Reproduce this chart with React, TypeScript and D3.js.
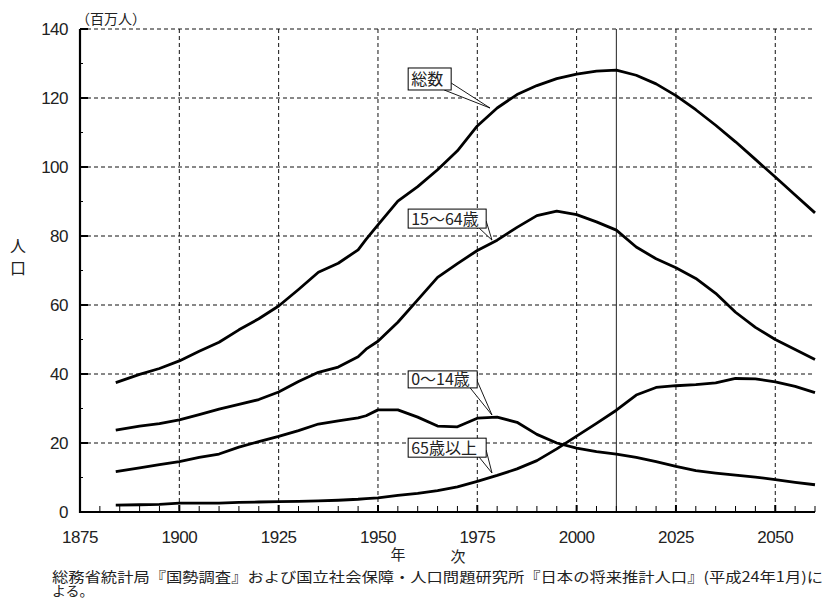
import React from 'react';
import * as d3 from 'd3';

// 年次 (shared by all series)
const years = [
  1884, 1890, 1895, 1900, 1905, 1910, 1915, 1920, 1925, 1930, 1935, 1940, 1945, 1947,
  1950, 1955, 1960, 1965, 1970, 1975, 1980, 1985, 1990, 1995, 2000, 2005, 2010,
  2015, 2020, 2025, 2030, 2035, 2040, 2045, 2050, 2055, 2060,
];

// 人口 (百万人)
const total = [
  37.5, 39.9, 41.6, 43.8, 46.6, 49.2, 52.8, 56.0, 59.7, 64.5, 69.5, 72.1, 76.0, 79.0,
  83.2, 90.1, 94.3, 99.2, 104.7, 111.9, 117.1, 121.0, 123.6, 125.6, 126.9, 127.8, 128.1,
  126.6, 124.1, 120.7, 116.6, 112.1, 107.3, 102.2, 97.1, 91.9, 86.7,
];
const age15to64 = [
  23.7, 24.9, 25.6, 26.7, 28.2, 29.8, 31.2, 32.6, 34.8, 37.8, 40.5, 42.0, 45.0, 47.2,
  49.5, 55.0, 61.5, 68.0, 72.0, 75.8, 78.8, 82.5, 85.9, 87.2, 86.2, 84.1, 81.7,
  76.8, 73.4, 70.8, 67.7, 63.4, 57.9, 53.5, 50.0, 47.1, 44.2,
];
const age0to14 = [
  11.7, 12.8, 13.7, 14.6, 15.8, 16.8, 18.8, 20.4, 21.9, 23.6, 25.5, 26.4, 27.3, 27.9,
  29.6, 29.6, 27.5, 24.9, 24.7, 27.2, 27.5, 26.0, 22.5, 20.0, 18.5, 17.5, 16.8,
  15.8, 14.6, 13.2, 12.0, 11.3, 10.7, 10.1, 9.4, 8.6, 7.9,
];
const age65plus = [
  2.0, 2.1, 2.2, 2.6, 2.6, 2.6, 2.8, 2.9, 3.0, 3.1, 3.2, 3.4, 3.7, 3.9,
  4.1, 4.8, 5.4, 6.2, 7.3, 8.9, 10.6, 12.5, 14.9, 18.3, 22.0, 25.7, 29.5,
  33.9, 36.1, 36.6, 36.9, 37.4, 38.7, 38.6, 37.7, 36.4, 34.6,
];

const seriesList = [total, age15to64, age0to14, age65plus];

const xTickLabels = [1875, 1900, 1925, 1950, 1975, 2000, 2025, 2050];
const yTickLabels = [0, 20, 40, 60, 80, 100, 120, 140];

// callout labels: box position and tip in data units
const callouts = [
  { text: '総数', year: 1957.6, top: 128.7, w: 43, h: 22, tipYear: 1978.2, tipValue: 117.1 },
  { text: '15～64歳', year: 1957.6, top: 87.8, w: 78, h: 19, tipYear: 1978.7, tipValue: 78.8 },
  { text: '0～14歳', year: 1957.6, top: 40.9, w: 69, h: 17, tipYear: 1978.7, tipValue: 28.1 },
  { text: '65歳以上', year: 1957.6, top: 21.4, w: 78, h: 19, tipYear: 1978.7, tipValue: 11.3 },
];

const W = 827;
const H = 601;
const JP = '"Noto Sans CJK JP", "Noto Sans", sans-serif';
const NUM = '"Liberation Sans", Arial, sans-serif';

export default function App() {
  const x = d3.scaleLinear().domain([1875, 2060]).range([80, 815]);
  const y = d3.scaleLinear().domain([0, 140]).range([512, 29]);

  const line = d3
    .line<number>()
    .x((_, i) => x(years[i]))
    .y((d) => y(d));

  const minorX = d3.range(1880, 2061, 5);
  const minorY = d3.range(10, 140, 20);
  const gridX = xTickLabels.filter((v) => v > 1875);
  const gridY = yTickLabels.filter((v) => v > 0);

  const caption =
    '総務省統計局『国勢調査』および国立社会保障・人口問題研究所『日本の将来推計人口』(平成24年1月)に';

  return (
    <svg
      width={W}
      height={H}
      style={{ position: 'absolute', left: 0, top: 0, background: '#fff' }}
    >
      {/* grid */}
      {gridY.map((v) => (
        <line key={'gy' + v} x1={x(1875)} x2={x(2060)} y1={y(v)} y2={y(v)}
          stroke="#111" strokeWidth={1} strokeDasharray="4,3" />
      ))}
      {gridX.map((v) => (
        <line key={'gx' + v} x1={x(v)} x2={x(v)} y1={y(140)} y2={y(0)}
          stroke="#111" strokeWidth={1} strokeDasharray="4,3" />
      ))}
      {/* 2010 marker */}
      <line x1={x(2010)} x2={x(2010)} y1={y(140)} y2={y(0)} stroke="#222" strokeWidth={1} />

      {/* series */}
      {seriesList.map((s, i) => (
        <path key={'s' + i} d={line(s) || ''} fill="none" stroke="#000"
          strokeWidth={2.8} strokeLinejoin="round" />
      ))}

      {/* axes */}
      <line x1={x(1875)} x2={x(1875)} y1={y(140)} y2={y(0) + 1} stroke="#000" strokeWidth={2.2} />
      <line x1={x(1875)} x2={x(2060)} y1={y(0)} y2={y(0)} stroke="#000" strokeWidth={2.2} />
      {minorX.map((v) => (
        <line key={'mx' + v} x1={x(v)} x2={x(v)} y1={y(0)} y2={y(0) - (v % 25 === 0 ? 7 : 6)}
          stroke="#000" strokeWidth={v % 25 === 0 ? 2 : 1} />
      ))}
      {gridY.map((v) => (
        <line key={'ty' + v} x1={x(1875)} x2={x(1875) + 8} y1={y(v)} y2={y(v)}
          stroke="#000" strokeWidth={2} />
      ))}
      {minorY.map((v) => (
        <line key={'my' + v} x1={x(1875)} x2={x(1875) + 3} y1={y(v)} y2={y(v)}
          stroke="#000" strokeWidth={1} />
      ))}

      {/* tick labels */}
      {yTickLabels.map((v) => (
        <text key={'yl' + v} x={68} y={y(v) + 6} textAnchor="end" fontFamily={NUM}
          fontSize={17} letterSpacing={-0.5} fill="#222">{v}</text>
      ))}
      {xTickLabels.map((v) => (
        <text key={'xl' + v} x={x(v)} y={543} textAnchor="middle" fontFamily={NUM}
          fontSize={17} letterSpacing={-0.5} fill="#222">{v}</text>
      ))}

      {/* axis titles */}
      <text x={76} y={24} fontFamily={JP} fontSize={14} fill="#222">（百万人）</text>
      <text x={18} y={252} textAnchor="middle" fontFamily={JP} fontSize={16} fill="#222">人</text>
      <text x={18} y={274} textAnchor="middle" fontFamily={JP} fontSize={16} fill="#222">口</text>
      <text x={398} y={560} textAnchor="middle" fontFamily={JP} fontSize={15} fill="#222">年</text>
      <text x={458} y={562} textAnchor="middle" fontFamily={JP} fontSize={15} fill="#222">次</text>

      {/* callouts */}
      {callouts.map((c) => {
        const left = x(c.year);
        const top = y(c.top);
        const right = left + c.w;
        const bottom = top + c.h;
        const tx = x(c.tipYear);
        const ty = y(c.tipValue);
        const wedge = `${right - 7},${bottom} ${tx},${ty} ${right},${bottom - 7}`;
        return (
          <g key={c.text}>
            <polygon points={wedge} fill="#fff" stroke="#000" strokeWidth={0.9} />
            <rect x={left} y={top} width={c.w} height={c.h} fill="#fff" stroke="#000" strokeWidth={1} />
            <text x={left + 3} y={top + c.h / 2 + 6} fontFamily={JP} fontSize={16} fill="#222">
              {c.text}
            </text>
          </g>
        );
      })}

      {/* source */}
      <text x={52} y={582} fontFamily={JP} fontSize={14} fill="#222" textLength={771}
        lengthAdjust="spacingAndGlyphs">{caption}</text>
      <text x={52} y={596} fontFamily={JP} fontSize={14} fill="#222">よる。</text>
    </svg>
  );
}
